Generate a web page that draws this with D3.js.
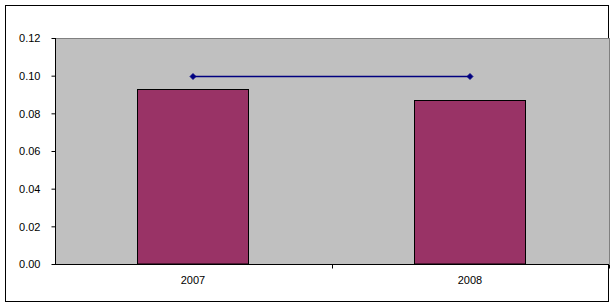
<!DOCTYPE html>
<html><head><meta charset="utf-8">
<script src="https://cdn.jsdelivr.net/npm/d3@7"></script>
<style>body{margin:0;background:#fff}svg{display:block}text{font-family:"Liberation Sans",Arial,sans-serif;font-size:11px;fill:#000}</style>
</head><body>
<script>
const categories = ["2007", "2008"];
const barValues = [0.093, 0.087];
const lineValues = [0.10, 0.10];
const yTicks = [0, 0.02, 0.04, 0.06, 0.08, 0.10, 0.12];

const W = 615, H = 308;
const svg = d3.select("body").append("svg").attr("width", W).attr("height", H);
svg.append("rect").attr("x", 5.5).attr("y", 5.5).attr("width", 603).attr("height", 296)
  .attr("fill", "#fff").attr("stroke", "#000").attr("stroke-width", 1);

const L = 55, R = 609, T = 38, B = 264;
const xb = d3.scaleBand().domain(categories).range([L, R]);
const y = d3.scaleLinear().domain([0, 0.12]).range([B, T]);

svg.append("rect").attr("x", L).attr("y", T).attr("width", R - L + 1).attr("height", B - T)
  .attr("fill", "#c0c0c0");
svg.append("line").attr("x1", L).attr("x2", R + 1).attr("y1", T + 0.5).attr("y2", T + 0.5)
  .attr("stroke", "#808080");
svg.append("line").attr("x1", R + 0.5).attr("x2", R + 0.5).attr("y1", T).attr("y2", B)
  .attr("stroke", "#808080");

svg.selectAll("rect.bar").data(categories).join("rect").attr("class", "bar")
  .attr("x", d => Math.floor(xb(d) + xb.bandwidth() / 2 - 56.5) + 0.5)
  .attr("width", 111)
  .attr("y", (d, i) => Math.round(y(barValues[i])) + 0.5)
  .attr("height", (d, i) => B - Math.round(y(barValues[i])) - 0.5)
  .attr("fill", "#993366").attr("stroke", "#000").attr("stroke-width", 1);

const cx = d => xb(d) + xb.bandwidth() / 2 - 0.5;
svg.append("path").datum(categories)
  .attr("d", d3.line().x(d => cx(d)).y((d, i) => Math.round(y(lineValues[i])) + 0.5))
  .attr("fill", "none").attr("stroke", "#000080").attr("stroke-width", 1.3);
svg.selectAll("path.mk").data(categories).join("path").attr("class", "mk")
  .attr("transform", (d, i) => `translate(${cx(d)},${Math.round(y(lineValues[i])) + 0.5})`)
  .attr("d", "M0,-3L3,0L0,3L-3,0Z").attr("fill", "#000080").attr("stroke", "#000080").attr("stroke-width", 0.8);

// y axis
const ya = svg.append("g").attr("transform", `translate(${L + 0.5},0)`)
  .call(d3.axisLeft(y).tickValues(yTicks).tickFormat(d3.format(".2f")).tickSize(4).tickPadding(11));
ya.select(".domain").attr("d", `M0,${T}V${B + 0.5}`).attr("stroke", "#000");
ya.selectAll(".tick line").attr("stroke", "#000");
ya.selectAll("text").style("font-size", "11px").attr("dy", "0.35em");

// x axis
const xa = svg.append("g").attr("transform", `translate(0,${B + 0.5})`);
xa.append("line").attr("x1", L).attr("x2", R).attr("stroke", "#000");
const bounds = [xb(categories[1]), R - 0.5];
xa.selectAll("line.t").data(bounds).join("line").attr("class", "t")
  .attr("x1", d => Math.round(d) + 0.5).attr("x2", d => Math.round(d) + 0.5).attr("y1", 0).attr("y2", 4).attr("stroke", "#000");
xa.selectAll("text").data(categories).join("text")
  .attr("x", d => cx(d)).attr("y", 19).attr("text-anchor", "middle").text(d => d);
</script>
</body></html>
